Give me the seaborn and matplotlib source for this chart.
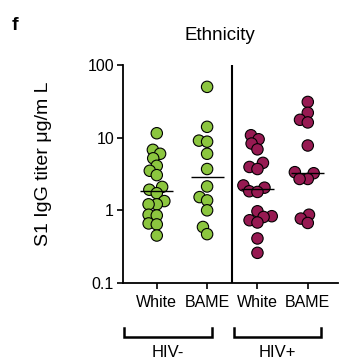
import numpy as np
import pandas as pd
import matplotlib
matplotlib.use("Agg")
import matplotlib.pyplot as plt
import seaborn as sns

# ---- data ----
groups = ["HIV- White", "HIV- BAME", "HIV+ White", "HIV+ BAME"]
tick_labels = ["White", "BAME", "White", "BAME"]
white_neg = [11.5, 6.8, 6.0, 5.2, 4.1, 3.5, 3.05, 2.1, 1.92, 1.72, 1.34, 1.21, 1.21, 0.87, 0.85, 0.66, 0.64, 0.45]
bame_neg = [50, 14.1, 9.1, 8.8, 6.0, 3.7, 2.13, 1.52, 1.37, 1.0, 0.59, 0.47]
white_pos = [10.8, 9.5, 8.3, 6.9, 4.5, 3.95, 3.7, 2.2, 2.05, 1.83, 1.79, 0.97, 0.83, 0.81, 0.73, 0.68, 0.41, 0.26]
bame_pos = [31, 22, 17.6, 16.2, 7.8, 3.35, 3.24, 2.7, 2.7, 0.87, 0.77, 0.67]
hiv_labels = ["HIV-", "HIV+"]
y_ticks = [0.1, 1, 10, 100]
y_tick_labels = ["0.1", "1", "10", "100"]

green = "#8cc63f"
maroon = "#971a52"
colors = [green, green, maroon, maroon]

series = [white_neg, bame_neg, white_pos, bame_pos]
df = pd.DataFrame({
    "group": np.concatenate([[g] * len(v) for g, v in zip(groups, series)]),
    "titer": np.concatenate(series),
})

plt.rcParams["font.family"] = ["Liberation Sans", "DejaVu Sans"]

fig = plt.figure(figsize=(3.39, 3.63), dpi=100)
ax = fig.add_axes([0.363, 0.2204, 0.634, 0.6006])

ax.set_yscale("log")
ax.set_ylim(0.1, 100)
ax.set_xlim(-0.67, 3.6)

# swarm layout computed with a smaller marker so the (larger) drawn markers overlap a bit
sns.swarmplot(data=df, x="group", y="titer", hue="group", order=groups,
              hue_order=groups, palette=colors, size=5.2, linewidth=0.8,
              edgecolor="black", legend=False, ax=ax)
fig.canvas.draw()
for coll in ax.collections:
    if "draw" in coll.__dict__:
        del coll.__dict__["draw"]   # freeze the computed swarm positions
    coll.set_sizes([8.2 ** 2])

# median lines
meds = df.groupby("group")["titer"].median().reindex(groups).values
for i, m in enumerate(meds):
    ax.hlines(m, i - 0.33, i + 0.33, color="black", lw=1.0, zorder=5)

ax.set_xlim(-0.67, 3.6)
ax.set_yticks(y_ticks)
ax.set_yticklabels(y_tick_labels)
ax.yaxis.set_minor_locator(matplotlib.ticker.NullLocator())
ax.set_xticks(range(len(groups)))
ax.set_xticklabels(tick_labels)
ax.tick_params(axis="both", labelsize=11.5, width=1.2, length=4.5, color="black", pad=2)
ax.tick_params(axis="x", pad=4)
for s in ["top", "right"]:
    ax.spines[s].set_visible(False)
for s in ["left", "bottom"]:
    ax.spines[s].set_linewidth(1.3)
ax.axvline(1.5, color="black", lw=1.5)
ax.set_xlabel("")
ax.set_ylabel("S1 IgG titer μg/m L", fontsize=14)
ax.yaxis.set_label_coords(-0.33, 0.548)

# group brackets
tr = ax.get_xaxis_transform()
for (x0, x1), lab in zip([(-0.65, 1.09), (1.54, 3.27)], hiv_labels):
    ax.plot([x0, x0, x1, x1], [-0.206, -0.248, -0.248, -0.206], color="black",
            lw=1.8, transform=tr, clip_on=False, solid_joinstyle="miter")
    ax.text((x0 + x1) / 2, -0.318, lab, transform=tr, ha="center", va="center",
            fontsize=12)

fig.text(220 / 339, 1 - 35 / 363, "Ethnicity", ha="center", va="center", fontsize=13.5)
fig.text(15 / 339, 1 - 25 / 363, "f", ha="center", va="center", fontsize=14, fontweight="bold")

fig.savefig("out.png", dpi=100)
